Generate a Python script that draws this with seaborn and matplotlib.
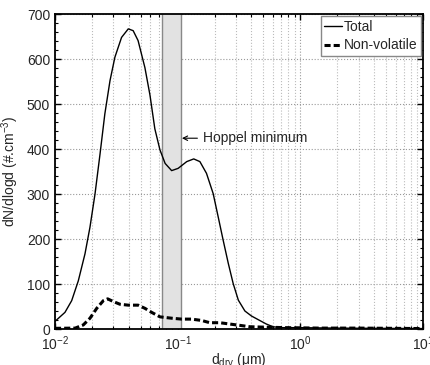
import numpy as np
import pandas as pd
import matplotlib
matplotlib.use("Agg")
import matplotlib.pyplot as plt
import seaborn as sns
from matplotlib.ticker import LogLocator, MultipleLocator, LogFormatterMathtext, NullFormatter
from matplotlib.lines import Line2D

# Data
total_d = [0.01, 0.01206, 0.01368, 0.01549, 0.01756, 0.01928, 0.0212, 0.0233, 0.0255, 0.0281,
           0.0308, 0.0349, 0.0396, 0.0434, 0.0476, 0.0541, 0.0595, 0.0652, 0.0718, 0.0791,
           0.0894, 0.101, 0.1187, 0.1354, 0.152, 0.172, 0.195, 0.214, 0.235, 0.259,
           0.284, 0.313, 0.354, 0.40, 0.46, 0.53, 0.60, 0.70, 1.0, 2.0, 4.0, 10.0]
total_v = [17, 37, 63, 107, 167, 226, 300, 389, 478, 552,
           604, 648, 667, 663, 641, 581, 520, 445, 398, 368,
           352, 357, 372, 378, 372, 346, 301, 250, 198, 146,
           101, 64, 40, 29, 20, 11, 5, 3, 3, 2, 1.5, 1]

nv_d = [0.01, 0.0146, 0.0170, 0.0193, 0.0219, 0.0248, 0.0269, 0.0299, 0.0339, 0.0396,
        0.0476, 0.0541, 0.0614, 0.0718, 0.0894, 0.108, 0.130, 0.157, 0.183, 0.221,
        0.267, 0.324, 0.389, 0.53, 0.77, 1.44, 3.0, 10.0]
nv_v = [1.5, 2, 9, 24, 46, 63, 67, 61, 55, 53,
        53, 46, 37, 27, 24, 22, 22, 19, 14, 14,
        11, 8, 5, 4, 3, 2, 2, 1]

hoppel_lo, hoppel_hi = 0.075, 0.107
hoppel_label = 'Hoppel minimum'
hoppel_y = 424

sns.set_style("white")
plt.rcParams['font.family'] = ['Liberation Sans', 'DejaVu Sans']
plt.rcParams['mathtext.fontset'] = 'custom'
plt.rcParams['mathtext.rm'] = 'Liberation Sans'
plt.rcParams['mathtext.it'] = 'Liberation Sans:italic'

df = pd.concat([
    pd.DataFrame({'d': total_d, 'v': total_v, 'series': 'Total'}),
    pd.DataFrame({'d': nv_d, 'v': nv_v, 'series': 'Non-volatile'}),
])

fig = plt.figure(figsize=(4.31, 3.65), dpi=100)
ax = fig.add_axes([0.1276, 0.0986, 0.8534, 0.863])

ax.axvspan(hoppel_lo, hoppel_hi, facecolor='#e2e2e2', edgecolor='none', zorder=1)
ax.axvline(hoppel_lo, color='#888888', lw=1.0, zorder=1.5)
ax.axvline(hoppel_hi, color='#888888', lw=1.0, zorder=1.5)

sns.lineplot(data=df, x='d', y='v', hue='series', style='series',
             palette={'Total': 'black', 'Non-volatile': 'black'},
             dashes={'Total': '', 'Non-volatile': (2, 1)},
             sort=False, ax=ax, zorder=3, legend=False)
for ln in ax.get_lines():
    if ln.get_linestyle() not in ('-', 'solid'):
        ln.set_linewidth(2.2)
    else:
        ln.set_linewidth(1.0)
    ln.set_solid_joinstyle('round')

ax.set_xscale('log')
ax.set_xlim(0.01, 10)
ax.set_ylim(0, 700)
ax.xaxis.set_major_locator(LogLocator(base=10, numticks=10))
ax.xaxis.set_minor_locator(LogLocator(base=10, subs=np.arange(2, 10), numticks=20))
ax.xaxis.set_major_formatter(LogFormatterMathtext())
ax.xaxis.set_minor_formatter(NullFormatter())
ax.yaxis.set_major_locator(MultipleLocator(100))
ax.yaxis.set_minor_locator(MultipleLocator(20))

ax.grid(True, which='major', axis='both', color='#999999', linestyle=':', linewidth=0.8)
ax.grid(True, which='minor', axis='x', color='#bbbbbb', linestyle=':', linewidth=0.8)
ax.set_axisbelow(True)

ax.tick_params(which='both', direction='in', top=True, right=True, left=True, bottom=True,
               labelsize=10, color='black')
ax.tick_params(which='major', length=4, width=1)
ax.tick_params(which='minor', length=2.5, width=0.8)
ax.tick_params(axis='x', which='major', pad=4)
for s in ax.spines.values():
    s.set_color('black')
    s.set_linewidth(1.3)

ax.set_xlabel('d$_{\\rm dry}$ (\u03bcm)', fontsize=10, labelpad=-1)
ax.set_ylabel(r'dN/dlogd (#.cm$^{-3}$)', fontsize=10, labelpad=4)

ax.annotate('', xy=(0.1085, hoppel_y), xytext=(0.145, hoppel_y),
            arrowprops=dict(arrowstyle='->', lw=0.8, color='black',
                            shrinkA=0, shrinkB=0, mutation_scale=8), zorder=4)
ax.text(0.16, hoppel_y, hoppel_label, fontsize=10, va='center', ha='left', zorder=4)

handles = [Line2D([], [], color='black', lw=1.0),
           Line2D([], [], color='black', lw=2.2, dashes=(2, 1))]
leg = ax.legend(handles, ['Total', 'Non-volatile'], loc='upper right', fontsize=10,
                frameon=True, fancybox=False, edgecolor='#888888', framealpha=1,
                handlelength=1.3, handletextpad=0.1, borderaxespad=0.15,
                borderpad=0.25, labelspacing=0.35)
leg.get_frame().set_linewidth(1.0)

fig.savefig('out.png', dpi=100)
